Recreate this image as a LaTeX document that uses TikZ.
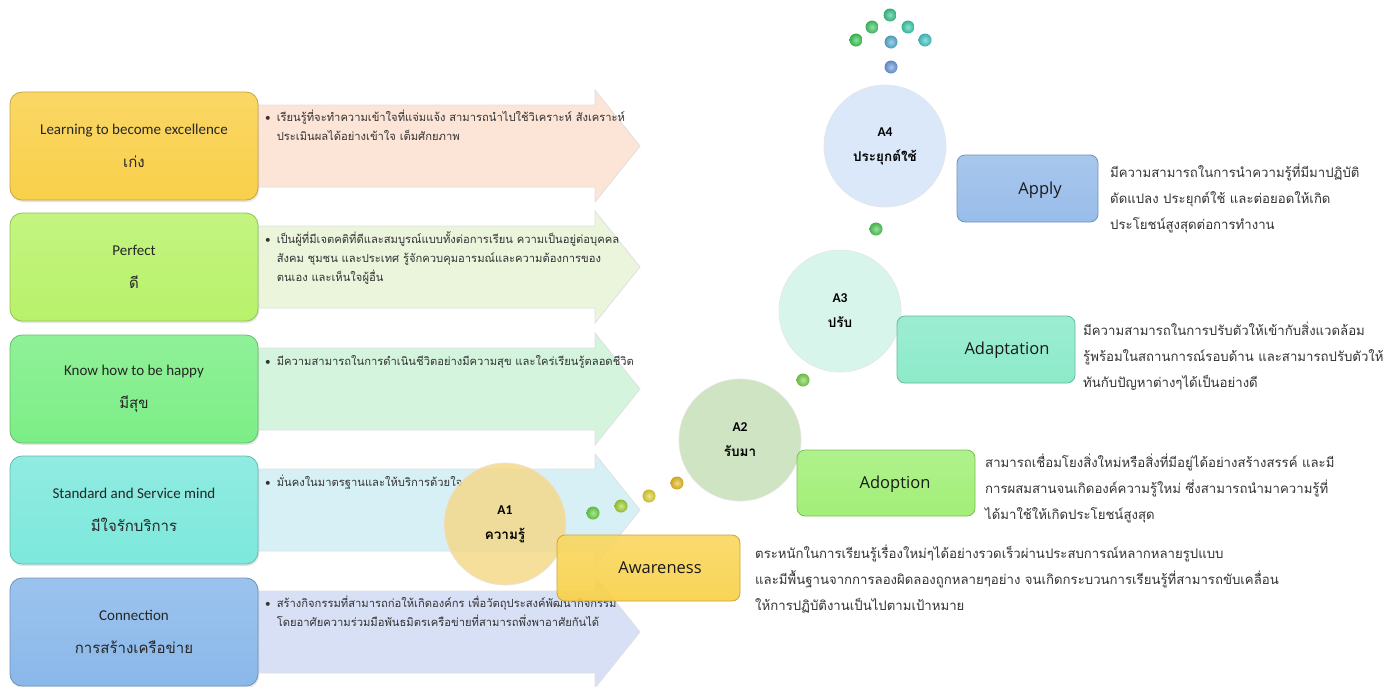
\documentclass[tikz,border=0pt]{standalone}
\usepackage{fontspec}
\setmainfont{Carlito}
\newfontfamily\thai[Script=Thai]{Loma}
\newfontfamily\osans{Open Sans}
\usetikzlibrary{shadows}
\definecolor{arA}{HTML}{FCE4D6}
\definecolor{arB}{HTML}{EBF5DC}
\definecolor{arC}{HTML}{D4F4DE}
\definecolor{arD}{HTML}{D6F0F6}
\definecolor{arE}{HTML}{D8E0F6}
\definecolor{bxA}{HTML}{F9D04A}
\definecolor{bxB}{HTML}{B8F26A}
\definecolor{bxC}{HTML}{7CEE86}
\definecolor{bxD}{HTML}{7DE8DC}
\definecolor{bxE}{HTML}{8AB8EA}
\definecolor{awc}{HTML}{F9D044}
\definecolor{adc}{HTML}{98EE6A}
\definecolor{adpc}{HTML}{80E8C4}
\definecolor{apc}{HTML}{8EB6E8}
\definecolor{caA}{HTML}{F5D98A}
\definecolor{caB}{HTML}{C6E0B8}
\definecolor{caC}{HTML}{D2F4E8}
\definecolor{caD}{HTML}{D4E4F8}
\definecolor{txt}{HTML}{333333}
\definecolor{dA}{HTML}{6CD84A}
\definecolor{dB}{HTML}{A8D838}
\definecolor{dC}{HTML}{E6D838}
\definecolor{dD}{HTML}{EEC028}
\definecolor{dE}{HTML}{7ED84E}
\definecolor{dF}{HTML}{52D05C}
\definecolor{dG}{HTML}{6E9EE0}
\definecolor{dH}{HTML}{3CC890}
\definecolor{dI}{HTML}{46CC6A}
\definecolor{dJ}{HTML}{3CD0B0}
\definecolor{dK}{HTML}{3CCC5A}
\definecolor{dL}{HTML}{5AB4D8}
\definecolor{dM}{HTML}{48CCCC}
\newcommand\rowarrow[2]{\path[rowarr, fill=#2] (250,{#1-41}) -- (595,{#1-41}) -- (595,{#1-56}) -- (640,#1) -- (595,{#1+56}) -- (595,{#1+41}) -- (250,{#1+41}) -- cycle;}
\newcommand\sdot[3]{\shade[inner color=#3!60!white, outer color=#3!85!black] (#1,#2) circle (6.5pt);}
\begin{document}
\begin{tikzpicture}[x=1pt,y=-1pt,
  rowarr/.style={draw=black!12, line width=0.8pt},
  lbox/.style={rounded corners=12pt, minimum width=248pt, minimum height=108pt, inner sep=0pt, align=center,
    draw=#1!80!black, line width=0.8pt, top color=#1!85!white, bottom color=#1,
    drop shadow={shadow xshift=1pt, shadow yshift=-2pt, opacity=0.2},
    font=\fontsize{15}{33}\selectfont, text=black!85},
  bul/.style={anchor=base west, inner sep=0pt, font=\thai\fontsize{11.2}{19}\selectfont, text=txt},
  acirc/.style={circle, minimum size=122pt, inner sep=0pt, align=center, fill=#1, fill opacity=0.85, text opacity=1,
    draw=white!90!black, line width=0.6pt, font=\bfseries\fontsize{13.5}{25}\selectfont},
  rbox/.style={rounded corners=8pt, inner sep=0pt, draw=#1!80!black, line width=0.8pt,
    top color=#1!85!white, bottom color=#1, fill opacity=0.9},
  rtxt/.style={inner sep=0pt, font=\osans\fontsize{16.5}{20}\selectfont, text=black!90},
  desc/.style={anchor=base west, inner sep=0pt, font=\thai\fontsize{13.2}{26}\selectfont, text=txt}]
\path[use as bounding box, fill=white] (0,0) rectangle (1396,686);

% row arrows
\rowarrow{146}{arA}
\rowarrow{267}{arB}
\rowarrow{389}{arC}
\rowarrow{510}{arD}
\rowarrow{632}{arE}

% left boxes
\node[lbox=bxA] (b1) at (134,146) {Learning to become excellence\\{\thai เก่ง}};
\node[lbox=bxB] (b2) at (134,267) {Perfect\\{\thai ดี}};
\node[lbox=bxC] (b3) at (134,389) {Know how to be happy\\{\thai มีสุข}};
\node[lbox=bxD] (b4) at (134,510) {Standard and Service mind\\{\thai มีใจรักบริการ}};
\node[lbox=bxE] (b5) at (134,632) {Connection\\{\thai การสร้างเครือข่าย}};

% bullet texts
\node[bul] (t1) at (265,121) {\begin{tabular}[t]{@{}l@{\hspace{6pt}}l@{}}{\rmfamily •} & เรียนรู้ที่จะทำความเข้าใจที่แจ่มแจ้ง สามารถนำไปใช้วิเคราะห์ สังเคราะห์\\ & ประเมินผลได้อย่างเข้าใจ เต็มศักยภาพ\end{tabular}};
\node[bul] (t2) at (265,243) {\begin{tabular}[t]{@{}l@{\hspace{6pt}}l@{}}{\rmfamily •} & เป็นผู้ที่มีเจตคติที่ดีและสมบูรณ์แบบทั้งต่อการเรียน ความเป็นอยู่ต่อบุคคล\\ & สังคม ชุมชน และประเทศ รู้จักควบคุมอารมณ์และความต้องการของ\\ & ตนเอง และเห็นใจผู้อื่น\end{tabular}};
\node[bul] (t3) at (265,365) {\begin{tabular}[t]{@{}l@{\hspace{6pt}}l@{}}{\rmfamily •} & มีความสามารถในการดำเนินชีวิตอย่างมีความสุข และใคร่เรียนรู้ตลอดชีวิต\end{tabular}};
\node[bul] (t4) at (265,486) {\begin{tabular}[t]{@{}l@{\hspace{6pt}}l@{}}{\rmfamily •} & มั่นคงในมาตรฐานและให้บริการด้วยใจ\end{tabular}};
\node[bul] (t5) at (265,607) {\begin{tabular}[t]{@{}l@{\hspace{6pt}}l@{}}{\rmfamily •} & สร้างกิจกรรมที่สามารถก่อให้เกิดองค์กร เพื่อวัตถุประสงค์พัฒนากิจกรรม\\ & โดยอาศัยความร่วมมือพันธมิตรเครือข่ายที่สามารถพึ่งพาอาศัยกันได้\end{tabular}};

% circles
\node[acirc=caA] (a1) at (505,524) {A1\\{\thai ความรู้}};
\node[acirc=caB] (a2) at (740,440) {A2\\{\thai รับมา}};
\node[acirc=caC] (a3) at (840,311) {A3\\{\thai ปรับ}};
\node[acirc=caD] (a4) at (885,146) {A4\\{\thai ประยุกต์ใช้}};

% right boxes
\node[rbox=awc, minimum width=183pt, minimum height=66pt] (aw) at (648.5,568) {};
\node[rbox=adc, minimum width=178pt, minimum height=66pt] (ad) at (886,483) {};
\node[rbox=adpc, minimum width=178pt, minimum height=67pt] (adp) at (986,349.5) {};
\node[rbox=apc, minimum width=141pt, minimum height=67pt] (ap) at (1027.5,188.5) {};
\node[rtxt] (awt) at (660,568) {Awareness};
\node[rtxt] (adt) at (895,484) {Adoption};
\node[rtxt] (adpt) at (1007,350) {Adaptation};
\node[rtxt] (apt) at (1040,190) {Apply};

% descriptions
\node[desc] (dw) at (755,558) {\begin{tabular}[t]{@{}l@{}}ตระหนักในการเรียนรู้เรื่องใหม่ๆได้อย่างรวดเร็วผ่านประสบการณ์หลากหลายรูปแบบ\\และมีพื้นฐานจากการลองผิดลองถูกหลายๆอย่าง จนเกิดกระบวนการเรียนรู้ที่สามารถขับเคลื่อน\\ให้การปฏิบัติงานเป็นไปตามเป้าหมาย\end{tabular}};
\node[desc] (dd) at (985,467) {\begin{tabular}[t]{@{}l@{}}สามารถเชื่อมโยงสิ่งใหม่หรือสิ่งที่มีอยู่ได้อย่างสร้างสรรค์ และมี\\การผสมสานจนเกิดองค์ความรู้ใหม่ ซึ่งสามารถนำมาความรู้ที่\\ได้มาใช้ให้เกิดประโยชน์สูงสุด\end{tabular}};
\node[desc] (dp) at (1083,335) {\begin{tabular}[t]{@{}l@{}}มีความสามารถในการปรับตัวให้เข้ากับสิ่งแวดล้อม\\รู้พร้อมในสถานการณ์รอบด้าน และสามารถปรับตัวให้\\ทันกับปัญหาต่างๆได้เป็นอย่างดี\end{tabular}};
\node[desc] (da) at (1110,177) {\begin{tabular}[t]{@{}l@{}}มีความสามารถในการนำความรู้ที่มีมาปฏิบัติ\\ดัดแปลง ประยุกต์ใช้ และต่อยอดให้เกิด\\ประโยชน์สูงสุดต่อการทำงาน\end{tabular}};

% dots
\sdot{593}{513}{dA}
\sdot{621}{506}{dB}
\sdot{649}{496}{dC}
\sdot{677}{483}{dD}
\sdot{803}{380}{dE}
\sdot{876}{229}{dF}
\sdot{891}{67}{dG}
\sdot{890}{15}{dH}
\sdot{872}{27}{dI}
\sdot{908}{27}{dJ}
\sdot{856}{40}{dK}
\sdot{891}{42}{dL}
\sdot{925}{40}{dM}
\end{tikzpicture}
\end{document}
